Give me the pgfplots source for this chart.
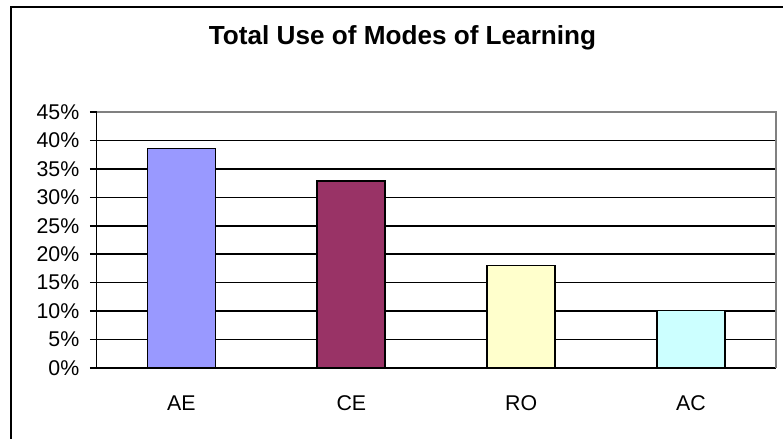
\documentclass[border=0pt]{standalone}
\usepackage{pgfplots}
\pgfplotsset{compat=1.18}
\usepackage{fontspec}
\setmainfont{Liberation Sans}

\definecolor{barAE}{HTML}{9999FF}
\definecolor{barCE}{HTML}{993366}
\definecolor{barRO}{HTML}{FFFFCC}
\definecolor{barAC}{HTML}{CCFFFF}
\definecolor{frameGray}{HTML}{808080}

\begin{document}
\begin{tikzpicture}
% picture is 783x439 px, 1px = 0.75pt
\useasboundingbox (0,0) rectangle (587.25pt,329.25pt);
\draw[line width=1.5pt] (8.25pt,-5pt) -- (8.25pt,324pt) -- (600pt,324pt);

\node[anchor=base,font=\bfseries\fontsize{19.6}{22}\selectfont] at (301.9pt,295.5pt)
  {Total Use of Modes of Learning};

\begin{axis}[
  at={(72.4pt,53.25pt)}, anchor=south west,
  scale only axis,
  width=509.6pt, height=192pt,
  xmin=-0.5, xmax=3.5,
  ymin=0, ymax=45,
  axis x line*=bottom, axis y line*=left,
  axis line style={line width=1.3pt, -},
  ytick={0,5,...,45},
  yticklabels={0\%,5\%,10\%,15\%,20\%,25\%,30\%,35\%,40\%,45\%},
  xtick={0,1,2,3},
  xticklabels={AE,CE,RO,AC},
  minor xtick={-0.5,0.5,1.5,2.5,3.5},
  xtick style={draw=none},
  minor tick length=4pt,
  major tick length=4.9pt,
  tick align=outside,
  tick style={black, line width=1.1pt},
  ymajorgrids,
  major grid style={black, line width=1.1pt},
  ticklabel style={font=\fontsize{16}{18}\selectfont},
  yticklabel style={anchor=east, xshift=-4.5pt},
  xticklabel style={anchor=base, yshift=-27pt},
  /pgf/number format/assume math mode=true,
  clip=false,
]
\addplot[ybar, bar width=0.4, fill=barAE, draw=black, line width=1.3pt] coordinates {(0,38.6)};
\addplot[ybar, bar width=0.4, fill=barCE, draw=black, line width=1.3pt] coordinates {(1,32.9)};
\addplot[ybar, bar width=0.4, fill=barRO, draw=black, line width=1.3pt] coordinates {(2,18.0)};
\addplot[ybar, bar width=0.4, fill=barAC, draw=black, line width=1.3pt] coordinates {(3,10.1)};
\draw[frameGray, line width=1.3pt] (rel axis cs:0,1) -- (rel axis cs:1,1) -- (rel axis cs:1,0);
\end{axis}
\end{tikzpicture}
\end{document}
